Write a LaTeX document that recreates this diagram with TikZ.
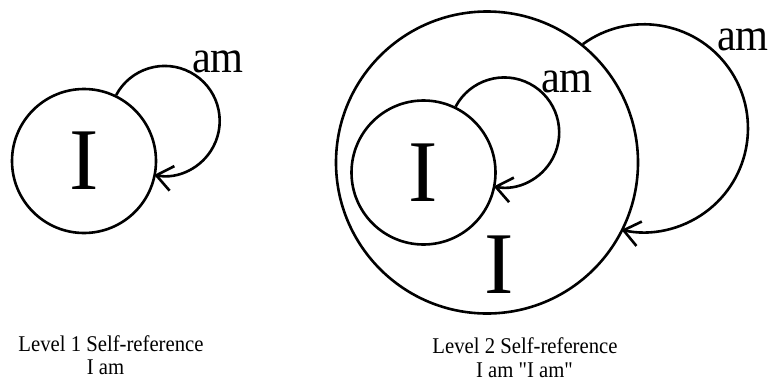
\documentclass[tikz,border=0pt]{standalone}
\usepackage{fontspec}
\setmainfont{Liberation Serif}
\newfontfamily\narrowserif{Liberation Serif}[FakeStretch=0.92]
\usetikzlibrary{arrows.meta}
\begin{document}
\begin{tikzpicture}[x=1pt,y=1pt,
  ring/.style={circle, draw, line width=2.6pt, inner sep=0pt},
  bigI/.style={font=\fontsize{88}{88}\selectfont, inner sep=0pt},
  amlab/.style={font=\narrowserif\fontsize{46}{46}\selectfont, inner sep=0pt, anchor=base},
  selfloop/.style={line width=2.6pt, -{Straight Barb[length=16pt,width=25pt]}},
  caption/.style={font=\narrowserif\fontsize{22.5}{24}\selectfont, inner sep=0pt, anchor=base}]
\useasboundingbox (0,0) rectangle (769,-381);

% Level 1
\node[ring, minimum size=144pt, bigI] (c1) at (84,-161) {I};
\draw[selfloop] (c1.64.5) arc[start angle=152, end angle=-101, radius=55pt];
\node[amlab] (am1) at (218,-72) {am};

% Level 2
\node[ring, minimum size=302pt] (big) at (487,-162.5) {};
\node[ring, minimum size=144pt, bigI] (c2) at (423.5,-172.5) {I};
\node[bigI, anchor=base] (bigI) at (499.5,-293) {I};
\draw[selfloop] (c2.64.5) arc[start angle=152, end angle=-101, radius=55pt];
\node[amlab] (am2) at (567,-92) {am};
\draw[selfloop] (big.51.5) arc[start angle=126, end angle=-102.5, radius=104pt];
\node[amlab] (am3) at (743,-50) {am};

% captions
\node[caption] (cap1a) at (111,-351) {Level 1 Self-reference};
\node[caption] (cap1b) at (105.5,-374) {I am};
\node[caption] (cap2a) at (525,-353) {Level 2 Self-reference};
\node[caption] (cap2b) at (524.5,-377) {I am "I am"};
\end{tikzpicture}
\end{document}
